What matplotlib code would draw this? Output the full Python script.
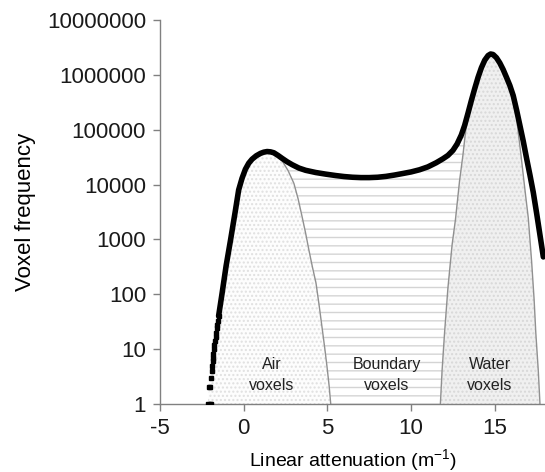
import matplotlib
matplotlib.use("Agg")
import matplotlib.pyplot as plt
import numpy as np

plt.rcParams['font.family'] = ['Liberation Sans', 'DejaVu Sans']
plt.rcParams['mathtext.fontset'] = 'custom'
plt.rcParams['mathtext.rm'] = 'Liberation Sans'
plt.rcParams['mathtext.it'] = 'Liberation Sans'
plt.rcParams['axes.unicode_minus'] = False

# total histogram (thick black line)
main_x = [-1.5, -1.3, -1.05, -0.78, -0.5, -0.3, -0.1, 0.1, 0.3, 0.5, 0.75, 1.0, 1.2,
          1.4, 1.6, 1.8, 2.05, 2.3, 2.6, 2.9, 3.3, 3.7, 4.3, 4.9, 5.5, 6.0, 6.5, 7.0,
          7.5, 8.0, 8.5, 9.0, 9.5, 10.0, 10.5, 11.0, 11.5, 11.9, 12.2, 12.5, 12.75,
          13.0, 13.2, 13.4, 13.6, 13.8, 14.0, 14.2, 14.4, 14.6, 14.75, 14.9, 15.1,
          15.3, 15.5, 15.7, 15.9, 16.1, 16.3, 16.5, 16.7, 16.9, 17.1, 17.3, 17.5,
          17.7, 17.9]
main_y = [40, 100, 330, 1000, 3300, 8000, 13000, 19000, 24500, 29000, 33500, 37000,
          39000, 40000, 39500, 38000, 34000, 30000, 26000, 23000, 20000, 18200, 16600,
          15500, 14600, 14000, 13600, 13400, 13400, 13600, 14100, 14900, 15900, 17000,
          18600, 21000, 25000, 29500, 34000, 42000, 55000, 80000, 120000, 200000,
          340000, 560000, 900000, 1350000, 1850000, 2250000, 2400000, 2350000,
          2050000, 1650000, 1250000, 900000, 640000, 420000, 230000, 120000, 62000,
          30000, 15000, 7200, 3000, 1200, 480]

# low-count tail (isolated points)
tail_x = [-2.12, -2.04, -1.97, -2.08, -2.0, -1.93, -1.9, -1.87, -1.85, -1.83, -1.82,
          -1.8, -1.76, -1.72, -1.68, -1.65, -1.61, -1.57, -1.54, -1.5]
tail_y = [1, 1, 1, 2, 2, 3, 4, 5, 6, 7, 8, 10, 12, 14, 17, 20, 24, 28, 33, 40]

# air voxel component
air_x = [-2.15, -1.85, -1.3, -1.05, -0.78, -0.5, -0.3, -0.1, 0.1, 0.3, 0.5, 0.75, 1.0,
         1.2, 1.4, 1.6, 1.8, 2.05, 2.3, 2.65, 3.0, 3.25, 3.5, 3.7, 3.9, 4.1, 4.32,
         4.5, 4.68, 4.85, 4.98, 5.1, 5.2]
air_y = [1, 10, 100, 330, 1000, 3300, 8000, 13000, 19000, 24500, 29000, 33500, 37000,
         39000, 40000, 39500, 37000, 32000, 27000, 18000, 10500, 5500, 2500, 1300, 630,
         320, 160, 65, 25, 10, 4.7, 2.2, 1]

# water voxel component
water_x = [11.75, 11.85, 12.0, 12.2, 12.45, 12.65, 12.9, 13.1, 13.25, 13.4, 13.6, 13.8,
           14.0, 14.2, 14.4, 14.6, 14.75, 14.9, 15.1, 15.3, 15.5, 15.7, 15.9, 16.1,
           16.3, 16.4, 16.55, 16.7, 16.85, 17.0, 17.1, 17.2, 17.35, 17.45, 17.6, 17.7]
water_y = [1, 4, 20, 130, 800, 2300, 12000, 35000, 90000, 200000, 340000, 560000,
           900000, 1350000, 1850000, 2250000, 2400000, 2350000, 2050000, 1650000,
           1250000, 900000, 640000, 400000, 180000, 90000, 38000, 15000, 6000, 2500,
           1000, 400, 80, 20, 4, 1]

labels = ["Air\nvoxels", "Boundary\nvoxels", "Water\nvoxels"]
label_x = [1.65, 8.55, 14.7]

fig = plt.figure(figsize=(5.45, 4.72), dpi=100)
ax = fig.add_axes([160 / 545, 68 / 472, 385 / 545, 384 / 472])
ax.set_yscale('log')

# air region
ax.fill_between(air_x, 1, air_y, facecolor='#fdfdfd', edgecolor='#e0e0e0',
                hatch='....', linewidth=0, zorder=1)

# boundary region: main curve on top, water left side, bottom, air right side
mx, my = np.array(main_x), np.array(main_y)
axx, ayy = np.array(air_x), np.array(air_y)
wx, wy = np.array(water_x), np.array(water_y)
top = (mx >= 1.4) & (mx <= 13.2)
wl = wx <= 13.25
ar = axx >= 1.4
bx = np.concatenate([mx[top], wx[wl][::-1], axx[ar][::-1]])
by = np.concatenate([my[top], wy[wl][::-1], ayy[ar][::-1]])
ax.fill(bx, by, facecolor='white', edgecolor='#d4d4d4', hatch='--', linewidth=0,
        zorder=1)

# water region
ax.fill_between(water_x, 1, water_y, facecolor='#f0f0f0', edgecolor='#d8d8d8',
                hatch='....', linewidth=0, zorder=1)

# component outlines
ax.plot(air_x[14:], air_y[14:], color='#909090', lw=1.0, zorder=2)
ax.plot(water_x, water_y, color='#909090', lw=1.0, zorder=2)

# total histogram
ax.plot(main_x, main_y, color='black', lw=4, solid_capstyle='round',
        solid_joinstyle='round', zorder=3)
ax.plot(tail_x, tail_y, ls='none', marker='s', ms=3.2, color='black', zorder=3)

for t, x in zip(labels, label_x):
    ax.text(x, 3.4, t, ha='center', va='center', fontsize=11.5, linespacing=1.5,
            color='#222222', zorder=4)

ax.set_xlim(-5, 18)
ax.set_ylim(1, 10000000)
ax.set_xticks([-5, 0, 5, 10, 15])
ax.set_yticks([1, 10, 100, 1000, 10000, 100000, 1000000, 10000000])
ax.set_yticklabels(['1', '10', '100', '1000', '10000', '100000', '1000000', '10000000'])
ax.yaxis.set_minor_locator(matplotlib.ticker.NullLocator())

for s in ['top', 'right']:
    ax.spines[s].set_visible(False)
for s in ['left', 'bottom']:
    ax.spines[s].set_color('#808080')
    ax.spines[s].set_linewidth(1.0)
ax.tick_params(axis='both', direction='out', length=5, width=1, color='#808080',
               labelsize=16, labelcolor='#1a1a1a', pad=5)

ax.set_xlabel(r'Linear attenuation (m$^{\mathregular{-1}}$)', fontsize=14)
ax.set_ylabel('Voxel frequency', fontsize=16)
ax.xaxis.label.set_va('center')
ax.xaxis.set_label_coords(0.5, -0.145)
ax.yaxis.set_label_coords(-0.322, 0.5)

fig.savefig('out.png', dpi=100)
